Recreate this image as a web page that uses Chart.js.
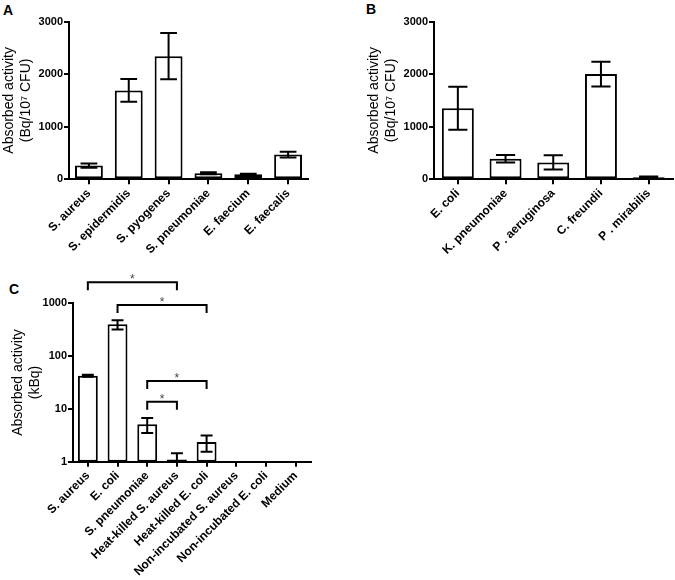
<!DOCTYPE html>
<html>
<head>
<meta charset="utf-8">
<script src="https://cdn.jsdelivr.net/npm/chart.js@4.4.1/dist/chart.umd.min.js"></script>
<style>
  body { margin: 0; background: #fff; }
  #page { position: relative; width: 675px; height: 580px; overflow: hidden; background: #fff; }
  .panel { position: absolute; }
  .tag { position: absolute; font: bold 14px "Liberation Sans", Arial, sans-serif; color: #000; line-height: 14px; }
</style>
</head>
<body>
<div id="page">
  <div class="tag" style="left:3px;top:3px">A</div>
  <div class="tag" style="left:366px;top:2px">B</div>
  <div class="tag" style="left:9px;top:282px">C</div>
  <div class="panel" style="left:0;top:0;width:330px;height:275px"><canvas id="chartA"></canvas></div>
  <div class="panel" style="left:340px;top:0;width:335px;height:275px"><canvas id="chartB"></canvas></div>
  <div class="panel" style="left:0;top:265px;width:330px;height:315px"><canvas id="chartC"></canvas></div>
</div>
<script>
// panel A - gram positive
const labelsA = ["S. aureus", "S. epidermidis", "S. pyogenes", "S. pneumoniae", "E. faecium", "E. faecalis"];
const meanA = [260, 1690, 2340, 115, 95, 470];
const sdA = [40, 215, 440, 20, 10, 55];

// panel B - gram negative
const labelsB = ["E. coli", "K. pneumoniae", "P . aeruginosa", "C. freundii", "P . mirabilis"];
const meanB = [1350, 390, 320, 2000, 40];
const sdB = [410, 70, 135, 235, 15];

// panel C - controls (kBq, log axis)
const labelsC = ["S. aureus", "E. coli", "S. pneumoniae", "Heat-killed S. aureus", "Heat-killed E. coli", "Non-incubated S. aureus", "Non-incubated E. coli", "Medium"];
const meanC = [42.5, 400, 5.1, 1.1, 2.35, null, null, null];
const sdC = [2, 80, 1.6, 0.34, 0.8, null, null, null];
const ticksC = [1, 10, 100, 1000];

// significance brackets in panel C (category index from/to, height in kBq)
const bracketFrom = [0, 1, 2, 2];
const bracketTo = [3, 4, 4, 3];
const bracketLevel = [2500, 930, 33.7, 13.7];
const bracketMark = ["*", "*", "*", "*"];

const FONT = "\"Liberation Sans\", Arial, sans-serif";
Chart.defaults.font.family = FONT;
Chart.defaults.color = "#000";

Chart.register({
  id: "errorBars",
  afterDatasetsDraw(chart, args, opts) {
    if (!opts || !opts.sd) return;
    const ctx = chart.ctx;
    const yScale = chart.scales.y;
    const area = chart.chartArea;
    const values = chart.data.datasets[0].data;
    const meta = chart.getDatasetMeta(0);
    ctx.save();
    ctx.strokeStyle = "#000";
    ctx.lineWidth = 2;
    meta.data.forEach((bar, i) => {
      const m = values[i];
      const s = opts.sd[i];
      if (m == null || s == null) return;
      const half = bar.width * 0.3;
      const yTop = yScale.getPixelForValue(m + s);
      const lowVal = m - s;
      const lowClipped = lowVal <= yScale.min;
      const yBot = lowClipped ? area.bottom : yScale.getPixelForValue(lowVal);
      ctx.beginPath();
      ctx.moveTo(bar.x, yTop);
      ctx.lineTo(bar.x, yBot);
      ctx.moveTo(bar.x - half, yTop);
      ctx.lineTo(bar.x + half, yTop);
      if (!lowClipped) {
        ctx.moveTo(bar.x - half, yBot);
        ctx.lineTo(bar.x + half, yBot);
      }
      ctx.stroke();
    });
    ctx.restore();
  }
});

Chart.register({
  id: "sigBrackets",
  afterDraw(chart, args, opts) {
    if (!opts || !opts.from) return;
    const ctx = chart.ctx;
    const xScale = chart.scales.x;
    const yScale = chart.scales.y;
    ctx.save();
    ctx.strokeStyle = "#000";
    ctx.lineWidth = 2;
    ctx.fillStyle = "#444";
    ctx.font = "12px " + FONT;
    ctx.textAlign = "center";
    ctx.textBaseline = "alphabetic";
    opts.from.forEach((f, i) => {
      const x1 = xScale.getPixelForValue(f);
      const x2 = xScale.getPixelForValue(opts.to[i]);
      const y = yScale.getPixelForValue(opts.level[i]);
      ctx.beginPath();
      ctx.moveTo(x1, y + 8);
      ctx.lineTo(x1, y);
      ctx.lineTo(x2, y);
      ctx.lineTo(x2, y + 8);
      ctx.stroke();
      ctx.fillText(opts.mark[i], (x1 + x2) / 2, y + 1);
    });
    ctx.restore();
  }
});

function xAxis(height) {
  return {
    offset: true,
    border: { color: "#000", width: 2 },
    grid: { display: true, drawOnChartArea: false, offset: false, tickLength: 5, color: "#000", lineWidth: 2 },
    ticks: { autoSkip: false, maxRotation: 45, minRotation: 45, padding: 2, font: { size: 12, weight: "bold" } },
    afterFit: (scale) => { scale.height = height; }
  };
}

function yTitle(lines, pad) {
  return {
    display: true,
    text: lines,
    color: "#000",
    padding: { top: pad, bottom: 0 },
    font: { size: 14, weight: "normal", lineHeight: 1.2 }
  };
}

function makeBarChart(id, labels, values, sd, barPct, pad, yOpts, xHeight, extraPlugins) {
  return new Chart(document.getElementById(id), {
    type: "bar",
    data: {
      labels: labels,
      datasets: [{
        data: values,
        backgroundColor: "#fff",
        borderColor: "#000",
        borderWidth: 2,
        borderSkipped: false,
        barPercentage: barPct,
        categoryPercentage: 1
      }]
    },
    options: {
      responsive: true,
      maintainAspectRatio: false,
      animation: false,
      events: [],
      layout: { padding: pad },
      plugins: Object.assign({
        legend: { display: false },
        tooltip: { enabled: false },
        errorBars: { sd: sd }
      }, extraPlugins || {}),
      scales: {
        x: xAxis(xHeight),
        y: yOpts
      }
    }
  });
}

function linearY(title, pad, width) {
  return {
    min: 0,
    max: 3000,
    border: { color: "#000", width: 2 },
    grid: { display: true, drawOnChartArea: false, tickLength: 5, color: "#000", lineWidth: 2 },
    ticks: { stepSize: 1000, padding: 1, font: { size: 11, weight: "bold" }, callback: (v) => String(v) },
    title: yTitle(title, pad),
    afterFit: (scale) => { scale.width = width; }
  };
}

makeBarChart("chartA", labelsA, meanA, sdA, 0.7,
  { top: 21.5, right: 22, left: 0, bottom: 0 },
  linearY(["Absorbed activity", "(Bq/10\u2077 CFU)"], 1, 69), 95.7);

makeBarChart("chartB", labelsB, meanB, sdB, 0.67,
  { top: 21.5, right: 2.5, left: 25, bottom: 0 },
  linearY(["Absorbed activity", "(Bq/10\u2077 CFU)"], 1, 69), 95.7);

makeBarChart("chartC", labelsC, meanC, sdC, 0.67,
  { top: 38.3, right: 19.5, left: 0, bottom: 0 },
  {
    type: "logarithmic",
    min: 1,
    max: 1000,
    border: { color: "#000", width: 2 },
    grid: { display: true, drawOnChartArea: false, tickLength: 5, color: "#000", lineWidth: 2 },
    ticks: { padding: 1, font: { size: 11, weight: "bold" }, callback: (v) => String(v) },
    afterBuildTicks: (scale) => { scale.ticks = ticksC.map((v) => ({ value: v })); },
    title: yTitle(["Absorbed activity", "(kBq)"], 10),
    afterFit: (scale) => { scale.width = 73; }
  }, 118.3,
  { sigBrackets: { from: bracketFrom, to: bracketTo, level: bracketLevel, mark: bracketMark } });
</script>
</body>
</html>
